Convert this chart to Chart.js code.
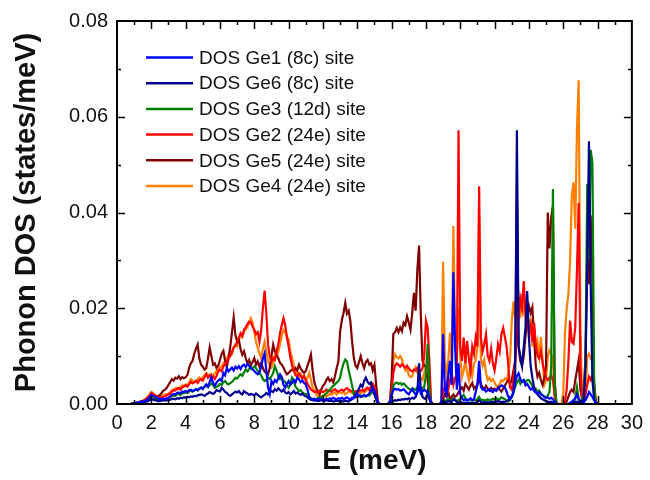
<!DOCTYPE html>
<html>
<head>
<meta charset="utf-8">
<script src="https://cdn.jsdelivr.net/npm/chart.js@4.4.1/dist/chart.umd.min.js"></script>
<style>
  html, body { margin: 0; padding: 0; background: #fff; }
  canvas { display: block; }
</style>
</head>
<body>
<canvas id="dosChart" width="650" height="480" style="width:650px;height:480px"></canvas>
<script>
// energy grid, 0.0 ... 28.0 meV in steps of 0.1
const energy = Array.from({ length: 281 }, (_, i) => i / 10);

// site-projected phonon DOS, in 1e-3 states/meV, one row per meV
const ge1Dos = [
  0, 0, 0, 0, 0, 0, 0, 0, 0, 0.1,
  0.2, 0.2, 0.3, 0.4, 0.5, 0.5, 0.6, 0.8, 1.0, 1.4,
  1.9, 1.7, 1.5, 1.4, 1.2, 1.0, 1.0, 1.1, 1.0, 1.2,
  1.3, 1.6, 1.9, 2.1, 2.0, 2.3, 2.4, 2.2, 2.6, 2.5,
  2.7, 2.5, 2.9, 3.0, 2.7, 2.8, 3.1, 2.9, 3.2, 3.4,
  3.1, 3.7, 4.1, 3.6, 4.6, 5.6, 4.4, 3.8, 4.5, 4.9,
  5.2, 4.8, 6.5, 6.0, 7.6, 6.8, 7.2, 7.6, 7.0, 7.8,
  7.4, 7.9, 7.3, 8.0, 8.2, 7.7, 8.4, 7.9, 7.5, 7.2,
  6.9, 6.5, 6.2, 6.6, 7.8, 9.5, 10.6, 7.0, 3.5, 2.1,
  4.8, 4.2, 5.0, 4.6, 5.4, 6.2, 5.6, 4.0, 3.4, 4.2,
  4.8, 4.0, 4.4, 5.0, 4.5, 5.5, 5.2, 4.6, 4.9, 4.4,
  4.1, 3.0, 1.5, 1.0, 0.9, 1.1, 0.8, 1.0, 1.2, 0.9,
  1.0, 0.8, 1.1, 0.9, 1.2, 1.0, 1.3, 1.1, 0.9, 1.2,
  1.1, 1.3, 1.0, 1.2, 1.4, 1.1, 1.0, 1.3, 1.2, 1.5,
  2.1, 1.8, 1.5, 1.7, 1.9, 1.6, 1.8, 2.2, 2.8, 3.4,
  2.8, 1.5, 0.3, 0, 0, 0, 0, 0, 0, 0.4,
  1.8, 2.9, 3.2, 3.0, 3.1, 2.8, 2.9, 3.1, 2.7, 2.3,
  2.0, 2.6, 3.2, 2.5, 2.0, 2.4, 3.9, 2.2, 2.6, 3.0,
  2.7, 2.3, 1.6, 0.3, 0, 0, 0, 0, 0, 0.3,
  14.6, 3.0, 2.0, 6.0, 9.0, 4.0, 27.5, 12.0, 3.0, 8.5,
  2.0, 1.2, 0.8, 1.0, 0.7, 0.9, 1.2, 0.8, 1.0, 2.5,
  4.0, 9.0, 3.6, 3.0, 3.2, 2.6, 2.9, 3.1, 2.7, 2.5,
  3.0, 2.8, 3.2, 3.6, 3.9, 3.7, 3.5, 2.6, 1.5, 1.0,
  1.5, 2.5, 4.5, 5.8, 6.4, 5.2, 4.6, 5.0, 3.9, 4.2,
  3.6, 3.0, 3.3, 2.7, 2.4, 2.2, 2.5, 2.0, 1.8, 1.5,
  1.2, 1.4, 1.1, 1.3, 1.0, 0.5, 0, 0, 0, 0,
  0, 0, 0, 0, 0.3, 0.5, 0.8, 1.2, 2.0, 1.0,
  0.5, 0.3, 0.4, 0.8, 1.5, 2.5, 2.0, 1.5, 0.8, 0.2,
  0
];

const ge6Dos = [
  0, 0, 0, 0, 0, 0, 0, 0, 0, 0,
  0.1, 0.1, 0.2, 0.2, 0.3, 0.3, 0.4, 0.5, 0.6, 0.8,
  1.0, 0.9, 0.8, 0.7, 0.6, 0.6, 0.7, 0.8, 0.7, 0.8,
  0.8, 0.9, 1.0, 1.1, 1.0, 1.2, 1.1, 1.3, 1.2, 1.4,
  1.3, 1.5, 1.4, 1.6, 1.5, 1.7, 1.6, 1.8, 1.9, 2.0,
  1.9, 1.7, 2.0, 2.2, 2.5, 2.3, 2.1, 2.4, 2.9, 2.7,
  2.6, 3.4, 3.0, 2.5, 2.3, 1.9, 1.7, 2.0, 2.3, 2.6,
  2.4, 2.7, 2.2, 2.0, 2.7, 2.4, 2.2, 1.9, 2.1, 2.0,
  1.8, 2.2, 1.9, 1.6, 1.4, 1.7, 1.9, 2.3, 2.0, 2.4,
  2.7, 2.5, 3.1, 2.8, 3.3, 2.9, 2.6, 3.0, 2.4, 2.2,
  2.5, 2.0, 2.3, 2.7, 2.2, 2.4, 2.1, 1.9, 2.2, 1.8,
  1.6, 1.4, 1.1, 0.9, 0.8, 0.7, 0.8, 0.6, 0.7, 0.8,
  0.7, 0.6, 0.8, 0.7, 0.6, 0.7, 0.5, 0.6, 0.7, 0.6,
  0.5, 0.6, 0.5, 0.7, 0.6, 0.5, 0.8, 1.0, 1.5, 2.0,
  2.6, 3.2, 4.0, 3.6, 4.8, 5.5, 4.6, 4.2, 4.5, 3.0,
  2.0, 1.0, 0.2, 0, 0, 0, 0, 0, 0, 0.2,
  0.5, 0.6, 0.8, 0.7, 0.9, 0.8, 1.0, 0.9, 1.1, 1.0,
  1.2, 1.0, 1.3, 1.1, 1.5, 2.5, 8.5, 3.0, 1.5, 1.2,
  1.0, 2.5, 1.0, 0.2, 0, 0, 0, 0, 0, 0.1,
  0.5, 0.3, 0.4, 0.6, 0.5, 0.4, 1.0, 0.8, 0.4, 0.3,
  0.4, 0.3, 0.2, 0.3, 0.2, 0.3, 0.2, 0.3, 0.2, 0.3,
  0.5, 0.8, 0.4, 0.3, 0.4, 0.3, 0.4, 0.3, 0.4, 0.5,
  0.4, 0.5, 0.6, 0.5, 0.4, 0.5, 0.4, 0.6, 0.8, 1.5,
  1.5, 2.5, 6.0, 57.2, 12.0, 10.0, 8.0, 12.0, 16.0, 23.6,
  14.0, 8.0, 5.5, 3.5, 2.5, 2.0, 1.6, 1.2, 1.0, 0.8,
  0.6, 0.5, 0.4, 0.5, 0.3, 0.2, 0, 0, 0, 0,
  0, 0, 0, 0, 0.1, 0.2, 0.3, 0.4, 0.5, 0.3,
  0.4, 0.6, 1.0, 8.0, 30.0, 54.9, 25.0, 5.0, 1.0, 0.2,
  0
];

const ge3Dos = [
  0, 0, 0, 0, 0, 0, 0, 0, 0, 0,
  0.1, 0.1, 0.1, 0.2, 0.3, 0.4, 0.5, 0.7, 0.9, 1.1,
  1.3, 1.2, 1.1, 1.0, 0.9, 0.9, 0.8, 0.9, 1.0, 1.1,
  1.2, 1.4, 1.6, 1.8, 1.7, 2.0, 2.1, 1.9, 2.2, 2.3,
  2.4, 2.3, 2.6, 2.8, 2.6, 2.9, 3.0, 2.8, 3.2, 3.5,
  3.3, 3.6, 3.8, 3.5, 4.0, 4.3, 3.9, 3.4, 3.6, 3.8,
  4.2, 4.0, 4.6, 4.8, 4.3, 4.1, 4.4, 4.6, 5.0, 5.5,
  5.3, 5.8, 6.2, 5.9, 6.6, 7.2, 6.8, 7.3, 7.6, 7.4,
  7.9, 7.5, 6.9, 6.5, 6.0, 5.2, 4.8, 5.0, 5.5, 5.2,
  5.8, 6.5, 7.9, 7.0, 5.8, 5.2, 5.5, 4.9, 4.6, 4.0,
  3.4, 4.2, 5.5, 4.8, 3.6, 3.2, 2.7, 2.9, 2.4, 2.2,
  2.1, 1.9, 1.4, 1.2, 1.0, 1.1, 0.9, 1.2, 1.4, 1.3,
  1.7, 1.9, 2.2, 2.7, 3.0, 3.4, 3.8, 4.1, 4.5, 4.8,
  5.5, 7.2, 8.5, 9.3, 8.9, 7.0, 5.5, 3.8, 2.1, 1.6,
  1.4, 1.6, 1.8, 1.5, 1.7, 1.6, 1.9, 1.8, 2.2, 2.6,
  2.0, 1.0, 0.2, 0, 0, 0, 0, 0, 0, 0.4,
  2.0, 3.8, 4.3, 4.5, 4.2, 4.4, 4.0, 4.3, 3.9, 3.5,
  3.2, 3.0, 2.8, 3.2, 2.9, 3.5, 3.0, 2.6, 3.4, 3.5,
  6.0, 12.5, 3.0, 0.3, 0, 0, 0, 0, 0, 0.1,
  0.5, 0.8, 0.6, 1.0, 0.8, 0.7, 1.2, 0.9, 0.6, 0.8,
  1.0, 1.5, 1.9, 1.2, 0.9, 0.8, 1.0, 0.7, 0.9, 0.8,
  1.0, 1.5, 0.8, 0.9, 0.7, 0.8, 1.0, 0.8, 0.9, 1.1,
  1.0, 1.2, 0.9, 1.1, 1.4, 1.2, 1.0, 0.7, 0.5, 0.8,
  1.5, 2.5, 3.5, 4.5, 5.0, 4.2, 4.8, 5.0, 4.6, 5.0,
  5.0, 4.4, 3.8, 3.0, 3.2, 2.6, 2.8, 2.2, 1.8, 1.6,
  1.4, 1.8, 2.5, 8.0, 44.9, 4.0, 0.3, 0, 0, 0,
  0, 0, 0, 0, 0, 0.2, 0.5, 1.0, 3.5, 1.0,
  0.5, 1.0, 2.0, 10.0, 46.0, 30.0, 53.1, 50.4, 5.0, 0,
  0
];

const ge2Dos = [
  0, 0, 0, 0, 0, 0, 0, 0, 0, 0.1,
  0.2, 0.2, 0.3, 0.4, 0.5, 0.6, 0.8, 1.0, 1.3, 1.7,
  2.3, 2.1, 1.8, 1.6, 1.5, 1.3, 1.4, 1.5, 1.6, 1.8,
  2.0, 2.2, 2.6, 2.9, 2.8, 3.1, 3.3, 3.0, 3.5, 3.7,
  3.9, 3.6, 4.1, 4.6, 4.3, 4.5, 4.8, 4.4, 5.0, 5.2,
  4.9, 5.6, 6.2, 5.5, 6.0, 5.4, 5.8, 5.2, 5.9, 6.8,
  7.2, 6.8, 7.9, 8.3, 8.8, 9.6, 10.0, 10.9, 11.8, 12.2,
  13.0, 13.9, 14.8, 14.2, 15.5, 16.0, 16.7, 17.2, 17.0, 16.2,
  15.5, 14.6, 15.0, 13.0, 15.5, 20.0, 23.7, 19.0, 12.5, 10.0,
  8.8, 9.6, 9.2, 11.0, 12.5, 14.8, 16.5, 17.9, 16.5, 14.0,
  12.0, 9.8, 8.0, 7.0, 6.0, 5.8, 6.4, 5.9, 5.3, 5.8,
  5.0, 4.2, 3.6, 3.0, 2.8, 2.5, 2.6, 2.4, 2.8, 2.6,
  2.5, 2.7, 3.0, 2.6, 2.8, 2.5, 2.9, 3.1, 2.7, 2.6,
  2.8, 3.0, 2.7, 3.1, 3.3, 3.0, 2.8, 2.6, 2.5, 2.7,
  2.4, 2.6, 2.8, 3.0, 2.7, 3.2, 3.4, 3.0, 3.6, 4.2,
  3.5, 1.8, 0.3, 0, 0, 0, 0, 0, 0, 0.5,
  3.0, 6.5, 8.0, 8.5, 8.2, 7.8, 8.3, 7.9, 7.6, 8.0,
  7.4, 7.0, 6.8, 7.2, 7.0, 7.5, 7.0, 6.9, 7.4, 10.0,
  17.4, 16.0, 9.0, 0.5, 0, 0, 0, 0, 0, 0.2,
  2.5, 3.5, 4.5, 3.0, 5.0, 6.5, 4.0, 5.5, 6.0, 57.2,
  12.0, 9.0, 13.9, 8.5, 13.2, 9.5, 7.0, 12.0, 10.5, 13.9,
  12.0, 45.5, 13.9, 11.0, 12.5, 14.6, 10.0, 9.0, 11.5, 8.5,
  7.0, 9.5, 12.5, 11.0, 14.6, 15.9, 14.0, 12.0, 8.0, 3.5,
  3.0, 5.0, 9.0, 14.0, 18.0, 22.0, 20.0, 25.7, 19.0, 17.0,
  15.0, 16.5, 13.0, 17.0, 12.5, 10.0, 9.5, 11.0, 8.5, 7.0,
  5.5, 5.0, 5.5, 6.0, 5.0, 2.0, 0.3, 0, 0, 0,
  0, 0.5, 3.0, 9.0, 17.4, 13.0, 12.6, 16.0, 28.0, 42.0,
  8.0, 1.0, 0.5, 2.0, 4.0, 5.7, 5.0, 6.0, 4.0, 0.5,
  0
];

const ge5Dos = [
  0, 0, 0, 0, 0, 0, 0, 0, 0, 0.1,
  0.2, 0.2, 0.3, 0.4, 0.5, 0.6, 0.7, 0.9, 1.2, 1.6,
  2.0, 1.8, 1.6, 1.5, 1.6, 1.9, 2.3, 2.8, 3.0, 3.4,
  4.0, 4.6, 5.2, 4.9, 5.5, 5.3, 5.8, 5.2, 5.6, 5.4,
  5.6, 6.0, 7.5, 8.5, 9.0, 10.5, 11.5, 12.4, 9.5, 8.2,
  7.8, 7.2, 7.5, 9.5, 11.8, 10.0, 8.2, 8.5, 7.5, 8.0,
  9.2, 10.5, 11.1, 9.0, 7.9, 9.5, 12.0, 15.0, 18.1, 14.4,
  13.0, 13.4, 11.5, 10.3, 11.0, 9.6, 8.5, 9.2, 8.0, 8.8,
  9.6, 8.2, 8.9, 7.8, 8.6, 7.5, 6.8, 6.5, 6.2, 7.5,
  10.0, 12.4, 11.0, 10.3, 9.5, 8.6, 8.2, 7.6, 6.8, 6.2,
  6.5, 6.9, 7.2, 6.9, 7.5, 7.0, 8.2, 7.4, 6.9, 6.5,
  6.9, 8.0, 9.0, 10.3, 7.0, 4.5, 3.4, 2.6, 2.0, 3.0,
  3.8, 4.2, 5.0, 5.5, 4.8, 5.2, 4.5, 5.8, 7.5, 8.9,
  15.1, 17.5, 19.0, 21.1, 18.9, 19.5, 17.2, 13.0, 9.6, 8.0,
  7.5, 8.8, 10.0, 8.5, 7.5, 8.8, 9.2, 8.2, 8.5, 7.0,
  8.2, 4.0, 0.5, 0, 0, 0, 0, 0, 0, 0.5,
  5.0, 14.6, 15.0, 15.9, 15.0, 16.0, 15.2, 17.0, 16.5, 18.3,
  17.0, 15.5, 19.0, 23.2, 19.5, 28.0, 33.1, 18.7, 9.0, 8.0,
  7.7, 5.0, 2.0, 0.2, 0, 0, 0, 0, 0, 0.3,
  1.0, 2.0, 1.5, 2.5, 1.0, 1.5, 2.0, 1.5, 1.8, 2.5,
  3.0, 3.5, 2.8, 4.2, 3.6, 3.0, 3.8, 4.4, 3.2, 3.6,
  4.0, 5.5, 4.2, 3.5, 3.0, 3.8, 3.2, 2.8, 3.4, 3.0,
  3.2, 2.8, 3.5, 3.0, 2.6, 3.2, 3.8, 4.5, 5.0, 4.2,
  5.0, 7.0, 9.0, 46.2, 12.0, 9.0, 8.0, 10.0, 14.0, 18.0,
  20.5, 19.0, 20.2, 14.0, 8.0, 5.7, 6.5, 5.0, 4.0, 5.5,
  8.0, 40.0, 32.5, 39.0, 41.4, 5.0, 0.3, 0, 0, 0,
  0, 0, 0.5, 1.5, 2.5, 3.0, 2.5, 5.0, 7.0, 9.2,
  3.0, 1.0, 2.0, 10.0, 31.0, 25.0, 39.4, 28.0, 3.0, 0,
  0
];

const ge4Dos = [
  0, 0, 0, 0, 0, 0, 0, 0, 0, 0.1,
  0.2, 0.3, 0.3, 0.4, 0.5, 0.7, 0.9, 1.2, 1.5, 2.0,
  2.5, 2.3, 1.9, 1.7, 1.6, 1.5, 1.6, 1.8, 1.9, 2.1,
  2.2, 2.5, 2.9, 3.1, 3.3, 3.4, 3.2, 3.6, 3.9, 3.7,
  4.1, 3.9, 4.5, 5.2, 4.9, 4.6, 4.8, 5.2, 5.5, 5.0,
  5.6, 6.0, 6.5, 6.1, 5.8, 6.3, 5.9, 6.4, 6.9, 7.3,
  7.6, 7.9, 8.6, 8.2, 9.5, 10.3, 11.0, 10.5, 11.8, 12.4,
  12.0, 13.2, 14.4, 14.0, 15.1, 15.6, 16.1, 17.0, 17.9, 17.0,
  15.1, 13.0, 11.7, 10.5, 9.6, 11.5, 13.0, 11.0, 8.9, 8.0,
  7.6, 8.5, 10.3, 10.0, 11.0, 12.5, 14.4, 15.5, 15.0, 14.0,
  13.5, 11.0, 9.6, 8.0, 6.9, 6.0, 5.5, 6.3, 5.5, 6.0,
  4.8, 5.5, 6.5, 5.0, 3.4, 2.8, 2.1, 1.4, 1.8, 1.6,
  1.7, 2.0, 1.5, 1.8, 2.1, 1.9, 2.2, 2.4, 2.0, 2.4,
  2.4, 2.2, 2.6, 2.0, 2.3, 2.7, 2.5, 2.2, 2.6, 2.1,
  2.0, 2.4, 2.2, 2.6, 2.4, 2.7, 3.0, 2.8, 3.6, 4.1,
  3.5, 1.5, 0.3, 0, 0, 0, 0, 0, 0, 0.5,
  4.0, 9.0, 10.4, 9.8, 9.5, 10.0, 9.4, 8.0, 7.0, 7.5,
  6.0, 5.6, 5.8, 7.0, 7.7, 6.5, 6.0, 5.5, 5.0, 6.5,
  7.7, 8.5, 6.0, 0.5, 0, 0, 0, 0, 0, 0.2,
  29.7, 10.0, 6.0, 9.0, 14.9, 8.0, 37.2, 14.0, 10.0, 20.0,
  10.0, 5.6, 7.0, 9.0, 6.5, 5.0, 9.0, 6.0, 8.5, 9.0,
  12.0, 39.3, 9.5, 8.0, 9.2, 6.5, 5.0, 5.5, 4.8, 5.2,
  4.5, 3.8, 3.5, 4.2, 5.0, 4.8, 5.3, 5.0, 6.5, 9.0,
  17.3, 21.4, 18.0, 25.0, 22.0, 18.0, 23.0, 19.5, 17.5, 21.0,
  14.0, 18.0, 12.0, 16.5, 11.0, 13.0, 10.0, 14.0, 9.0, 4.0,
  5.0, 10.0, 11.2, 10.5, 9.0, 1.0, 0, 0, 0, 0,
  2.0, 14.7, 20.0, 22.9, 29.8, 43.5, 46.3, 36.6, 57.2, 67.6,
  16.0, 1.0, 0.5, 2.0, 9.9, 10.5, 9.5, 10.0, 3.0, 0,
  0
];

const seriesLabels = [
  'DOS Ge1 (8c) site',
  'DOS Ge6 (8c) site',
  'DOS Ge3 (12d) site',
  'DOS Ge2 (24e) site',
  'DOS Ge5 (24e) site',
  'DOS Ge4 (24e) site'
];
const seriesValues = [ge1Dos, ge6Dos, ge3Dos, ge2Dos, ge5Dos, ge4Dos];
const seriesColors = ['#0000ff', '#000090', '#008000', '#ff0000', '#800000', '#ff8000'];

const FONT = '"Liberation Sans", Arial, Helvetica, sans-serif';

seriesValues.forEach((vals, i) => {
  if (vals.length !== energy.length) console.warn(seriesLabels[i], vals.length);
});

// box frame with inward major/minor ticks on all four sides
const framePlugin = {
  id: 'frame',
  afterDatasetsDraw(chart) {
    const { ctx, chartArea: a, scales: { x, y } } = chart;
    ctx.save();
    ctx.strokeStyle = '#000';
    ctx.lineWidth = 1.5;
    ctx.beginPath();
    for (let e = 1; e < 30; e++) {
      const px = Math.round(x.getPixelForValue(e)) + 0.5;
      const len = e % 2 === 0 ? 8 : 4;
      ctx.moveTo(px, a.bottom); ctx.lineTo(px, a.bottom - len);
      ctx.moveTo(px, a.top); ctx.lineTo(px, a.top + len);
    }
    for (let v = 10; v < 80; v += 10) {
      const py = Math.round(y.getPixelForValue(v)) + 0.5;
      const len = v % 20 === 0 ? 8 : 4;
      ctx.moveTo(a.left, py); ctx.lineTo(a.left + len, py);
      ctx.moveTo(a.right, py); ctx.lineTo(a.right - len, py);
    }
    ctx.stroke();
    ctx.lineWidth = 2;
    ctx.strokeRect(a.left, a.top, a.right - a.left, a.bottom - a.top);
    ctx.restore();
  }
};

// legend drawn inside the plot, upper left
const legendPlugin = {
  id: 'insideLegend',
  afterDatasetsDraw(chart) {
    const { ctx, chartArea: a } = chart;
    ctx.save();
    ctx.font = '19px ' + FONT;
    ctx.textBaseline = 'middle';
    ctx.fillStyle = '#111';
    chart.data.datasets.forEach((ds, i) => {
      const yy = a.top + 36.5 + i * 25.7;
      ctx.strokeStyle = ds.borderColor;
      ctx.lineWidth = 2.5;
      ctx.beginPath();
      ctx.moveTo(a.left + 29, yy);
      ctx.lineTo(a.left + 76, yy);
      ctx.stroke();
      ctx.fillText(ds.label, a.left + 82, yy + 1);
    });
    ctx.restore();
  }
};

const datasets = seriesValues.map((vals, i) => ({
  label: seriesLabels[i],
  data: vals.map((v, k) => ({ x: energy[k], y: v })),
  borderColor: seriesColors[i],
  backgroundColor: seriesColors[i],
  borderWidth: 2.2,
  pointRadius: 0,
  tension: 0,
  fill: false
}));

new Chart(document.getElementById('dosChart').getContext('2d'), {
  type: 'line',
  data: { datasets },
  options: {
    responsive: false,
    animation: false,
    devicePixelRatio: 1,
    layout: { padding: { top: 17, right: 12, left: 0, bottom: 0 } },
    plugins: {
      legend: { display: false },
      tooltip: { enabled: false }
    },
    scales: {
      x: {
        type: 'linear',
        min: 0,
        max: 30,
        afterFit: s => { s.height = 76; },
        grid: { display: false, drawTicks: false },
        border: { display: false },
        ticks: {
          stepSize: 2,
          autoSkip: false,
          maxRotation: 0,
          padding: 7,
          color: '#111',
          font: { family: FONT, size: 20 }
        },
        title: {
          display: true,
          text: 'E (meV)',
          color: '#111',
          font: { family: FONT, size: 28, weight: 'bold' },
          padding: { top: 0, bottom: 2 }
        }
      },
      y: {
        min: 0,
        max: 80,
        afterFit: s => { s.width = 117; },
        grid: { display: false, drawTicks: false },
        border: { display: false },
        ticks: {
          stepSize: 20,
          padding: 9,
          color: '#111',
          font: { family: FONT, size: 20 },
          callback: v => (v / 1000).toFixed(2)
        },
        title: {
          display: true,
          text: 'Phonon DOS (states/meV)',
          color: '#111',
          font: { family: FONT, size: 29, weight: 'bold' },
          padding: { top: 10, bottom: 0 }
        }
      }
    }
  },
  plugins: [framePlugin, legendPlugin]
});
</script>
</body>
</html>
